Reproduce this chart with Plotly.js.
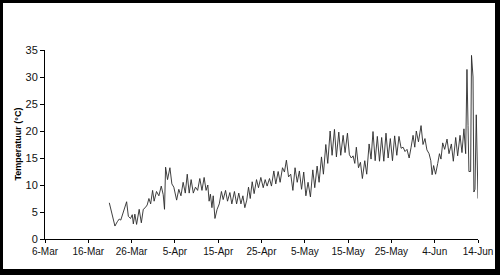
<!DOCTYPE html>
<html>
<head>
<meta charset="utf-8">
<script src="https://cdn.plot.ly/plotly-3.0.1.min.js"></script>
<style>
  html, body { margin: 0; padding: 0; background: #000; width: 500px; height: 275px; overflow: hidden; }
  #chart { position: absolute; left: 3px; top: 3px; width: 492px; height: 266px; background: #fff; }
</style>
</head>
<body>
<div id="chart"></div>
<script>
// Days since 6-Mar
const days = [
  14.85, 16.15, 16.7, 17.15, 17.5, 18.1, 18.5, 18.85, 19.25, 19.75, 20.15, 20.4, 20.75, 21.15, 21.75, 22.25, 22.7, 23.15, 23.6, 24.0,
  24.4, 24.85, 25.2, 25.75, 26.3, 26.85, 27.3, 27.6, 27.85, 28.3, 28.85, 29.3, 29.75, 30.4, 30.9, 31.4, 31.9, 32.4, 32.85, 33.3,
  33.75, 34.25, 34.75, 35.25, 35.75, 36.25, 36.75, 37.2, 37.6, 37.9, 38.2, 38.55, 38.85, 39.25, 39.75, 40.25, 40.75, 41.15, 41.7, 42.15,
  42.7, 43.15, 43.75, 44.25, 44.75, 45.25, 45.7, 46.15, 46.6, 47.0, 47.4, 47.85, 48.3, 48.85, 49.3, 49.85, 50.4, 50.85, 51.3, 51.85,
  52.3, 52.85, 53.3, 53.85, 54.3, 54.85, 55.3, 55.75, 56.25, 56.75, 57.25, 57.75, 58.25, 58.75, 59.25, 59.75, 60.25, 60.75, 61.3, 61.85,
  62.3, 62.85, 63.3, 63.85, 64.3, 64.85, 65.3, 65.85, 66.3, 66.85, 67.3, 67.85, 68.3, 68.85, 69.3, 69.85, 70.3, 70.75, 71.15, 71.55,
  71.9, 72.4, 72.85, 73.3, 73.85, 74.3, 74.85, 75.3, 75.75, 76.25, 76.75, 77.25, 77.75, 78.25, 78.75, 79.25, 79.75, 80.25, 80.75, 81.25,
  81.75, 82.25, 82.7, 83.15, 83.6, 84.1, 84.55, 85.0, 85.4, 85.75, 86.25, 86.85, 87.3, 87.75, 88.2, 88.7, 89.1, 89.4, 89.75, 90.2,
  90.7, 91.1, 91.45, 91.85, 92.3, 92.85, 93.3, 93.85, 94.3, 94.85, 95.3, 95.85, 96.3, 96.75, 97.15, 97.45, 97.7, 97.9, 98.3, 98.5,
  98.85, 99.05, 99.3, 99.6, 100.0
];
const temperatures = [
  6.7, 2.4, 3.2, 3.7, 3.5, 5.0, 5.8, 6.9, 4.2, 3.8, 4.5, 2.8, 4.6, 2.7, 5.5, 3.0, 5.5, 5.8, 6.3, 7.5,
  6.5, 9.0, 7.0, 8.8, 8.0, 9.8, 8.2, 5.5, 13.3, 11.0, 13.2, 10.2, 9.6, 7.2, 9.2, 8.0, 10.5, 8.5, 12.0, 8.5,
  11.0, 8.5, 9.6, 9.0, 11.2, 9.0, 11.4, 9.0, 10.0, 7.0, 8.3, 5.8, 8.0, 3.8, 5.5, 6.5, 8.8, 7.3, 9.0, 7.0,
  8.6, 6.5, 8.8, 6.5, 8.5, 6.5, 8.0, 5.8, 7.2, 9.6, 7.5, 10.6, 8.4, 11.0, 9.5, 11.4, 9.5, 11.0, 9.8, 11.2,
  9.8, 12.6, 10.2, 12.5, 10.5, 13.2, 12.4, 14.6, 11.5, 12.0, 9.0, 13.2, 10.5, 12.6, 9.2, 12.4, 8.0, 10.5, 7.8, 12.8,
  9.5, 13.5, 10.5, 15.2, 12.0, 17.5, 14.0, 20.0, 15.5, 20.3, 15.2, 19.8, 15.5, 19.2, 16.0, 19.6, 15.6, 15.0, 15.4, 14.0,
  17.0, 13.2, 14.2, 11.2, 14.5, 12.0, 17.6, 14.8, 19.9, 14.5, 19.0, 14.4, 18.8, 14.4, 19.6, 15.0, 18.6, 14.5, 19.1, 15.5,
  19.0, 16.8, 17.0, 16.2, 16.6, 15.0, 17.0, 19.2, 17.0, 20.0, 18.0, 21.0, 17.5, 18.6, 16.5, 15.8, 14.5, 11.9, 13.6, 12.0,
  14.0, 15.8, 14.8, 17.8, 16.6, 18.5, 15.8, 17.6, 14.4, 18.8, 15.4, 19.2, 16.0, 20.4, 15.8, 31.4, 21.0, 12.5, 12.5, 34.0,
  30.0, 8.7, 9.2, 23.0, 7.5
];
const tickDays = [0, 10, 20, 30, 40, 50, 60, 70, 80, 90, 100];
const tickLabels = ['6-Mar', '16-Mar', '26-Mar', '5-Apr', '15-Apr', '25-Apr', '5-May', '15-May', '25-May', '4-Jun', '14-Jun'];
const yTicks = [0, 5, 10, 15, 20, 25, 30, 35];

const font = { family: 'Liberation Sans, Arial, sans-serif', size: 10, color: '#111' };

Plotly.newPlot('chart', [{
  x: days,
  y: temperatures,
  type: 'scatter',
  mode: 'lines',
  line: { color: '#2a2a2a', width: 0.9 },
  hoverinfo: 'none'
}], {
  width: 492,
  height: 266,
  margin: { l: 42, r: 17, t: 47, b: 30 },
  paper_bgcolor: '#fff',
  plot_bgcolor: '#fff',
  showlegend: false,
  font: font,
  xaxis: {
    range: [0, 100],
    tickmode: 'array',
    tickvals: tickDays,
    ticktext: tickLabels,
    showgrid: false,
    zeroline: false,
    showline: true,
    linecolor: '#000',
    linewidth: 1,
    ticks: 'outside',
    ticklen: 3,
    tickcolor: '#000',
    tickfont: font,
    fixedrange: true
  },
  yaxis: {
    range: [0, 35],
    tickmode: 'array',
    tickvals: yTicks,
    showgrid: false,
    zeroline: false,
    showline: true,
    linecolor: '#000',
    linewidth: 1,
    ticks: 'outside',
    ticklen: 4,
    tickcolor: '#000',
    tickfont: { family: font.family, size: 11, color: '#111' },
    fixedrange: true
  },
  annotations: [{
    text: '<b>Temperatuur (°C)</b>',
    xref: 'paper', yref: 'paper',
    x: 0, y: 0.5,
    xshift: -28,
    textangle: -90,
    showarrow: false,
    xanchor: 'center', yanchor: 'middle',
    font: { family: font.family, size: 9, color: '#000' }
  }]
}, { staticPlot: true });
</script>
</body>
</html>
